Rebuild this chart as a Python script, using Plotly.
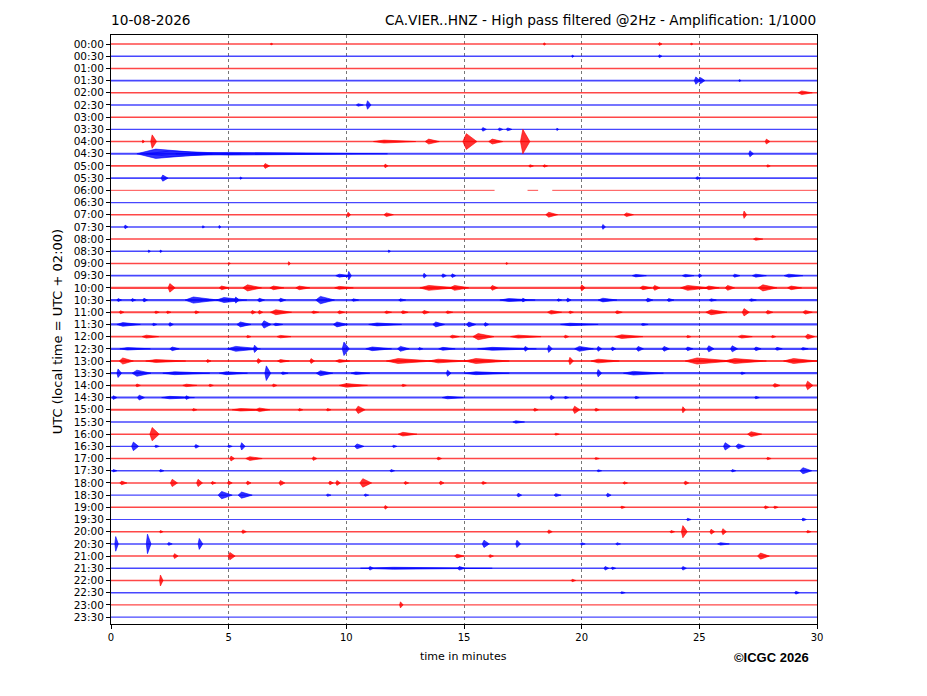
import plotly.graph_objects as go

# ---------------- data ----------------
row_labels = ["00:00", "00:30", "01:00", "01:30", "02:00", "02:30", "03:00", "03:30",
              "04:00", "04:30", "05:00", "05:30", "06:00", "06:30", "07:00", "07:30",
              "08:00", "08:30", "09:00", "09:30", "10:00", "10:30", "11:00", "11:30",
              "12:00", "12:30", "13:00", "13:30", "14:00", "14:30", "15:00", "15:30",
              "16:00", "16:30", "17:00", "17:30", "18:00", "18:30", "19:00", "19:30",
              "20:00", "20:30", "21:00", "21:30", "22:00", "22:30", "23:00", "23:30"]

# background noise half-amplitude for each row (in row units)
row_noise = [0.06, 0.06, 0.06, 0.07, 0.06, 0.06, 0.06, 0.06,
             0.06, 0.08, 0.07, 0.07, 0.04, 0.05, 0.06, 0.06,
             0.06, 0.06, 0.06, 0.07, 0.09, 0.09, 0.09, 0.09,
             0.08, 0.09, 0.09, 0.09, 0.08, 0.08, 0.08, 0.06,
             0.06, 0.06, 0.06, 0.06, 0.06, 0.06, 0.06, 0.05,
             0.06, 0.06, 0.06, 0.06, 0.06, 0.06, 0.06, 0.05]

x_ticks = [0, 5, 10, 15, 20, 25, 30]

# data gaps (row, start minute, end minute)
gap_row = [12, 12]
gap_start = [16.3, 18.15]
gap_end = [17.7, 18.75]

# seismic events: row index, time of peak (min), half amplitude (row units), duration (min)
ev_row = [0, 0, 0, 0,
          1, 1,
          3, 3, 3,
          4,
          5, 5,
          7, 7, 7, 7,
          8, 8, 8, 8, 8, 8, 8, 8,
          9, 9, 9, 9,
          10, 10, 10, 10, 10,
          11, 11, 11,
          14, 14, 14, 14, 14,
          15, 15, 15, 15,
          16,
          17, 17, 17,
          18, 18, 18,
          19, 19, 19, 19, 19, 19, 19, 19, 19, 19, 19,
          20, 20, 20, 20, 20, 20, 20, 20, 20, 20, 20, 20, 20, 20, 20, 20, 20,
          21, 21, 21, 21, 21, 21, 21, 21, 21, 21, 21, 21, 21, 21, 21, 21, 21, 21, 21, 21,
          22, 22, 22, 22, 22, 22, 22, 22, 22, 22, 22, 22, 22, 22, 22, 22, 22, 22, 22, 22,
          23, 23, 23, 23, 23, 23, 23, 23, 23, 23, 23, 23, 23,
          24, 24, 24, 24, 24, 24, 24, 24, 24, 24, 24, 24,
          25, 25, 25, 25, 25, 25, 25, 25, 25, 25, 25, 25, 25, 25, 25, 25, 25, 25, 25, 25, 25, 25, 25,
          26, 26, 26, 26, 26, 26, 26, 26, 26, 26, 26, 26, 26, 26, 26,
          27, 27, 27, 27, 27, 27, 27, 27, 27, 27, 27, 27, 27,
          28, 28, 28, 28, 28, 28, 28, 28,
          29, 29, 29, 29, 29, 29, 29, 29, 29,
          30, 30, 30, 30, 30, 30, 30, 30, 30, 30,
          31,
          32, 32, 32, 32,
          33, 33, 33, 33, 33, 33, 33, 33, 33,
          34, 34, 34, 34, 34, 34,
          35, 35, 35, 35, 35, 35,
          36, 36, 36, 36, 36, 36, 36, 36, 36, 36, 36, 36, 36, 36, 36,
          37, 37, 37, 37, 37, 37, 37,
          38, 38, 38, 38,
          39, 39,
          40, 40, 40, 40, 40, 40, 40, 40,
          41, 41, 41, 41, 41, 41, 41, 41, 41,
          42, 42, 42, 42, 42,
          43, 43, 43, 43, 43, 43,
          44, 44,
          45, 45,
          46]

ev_time = [6.8, 18.4, 23.3, 24.65,
           19.6, 23.3,
           24.85, 25.05, 26.7,
           29.35,
           10.5, 10.9,
           15.8, 16.5, 16.85, 18.95,
           1.35, 1.75, 11.6, 13.5, 15.1, 16.2, 17.5, 27.85,
           1.9, 2.5, 5.0, 27.15,
           6.55, 11.65, 17.8, 18.4, 27.9,
           2.2, 5.5, 24.9,
           10.07, 11.7, 18.6, 21.9, 26.9,
           0.6, 3.9, 4.6, 20.9,
           27.4,
           1.6, 2.1, 11.8,
           5.0, 7.55, 16.8,
           9.7, 10.1, 13.3, 14.1, 14.5, 22.3, 24.4, 25.0, 26.5, 27.4, 28.8,
           2.5, 4.7, 5.8, 6.9, 8.0, 9.7, 13.5, 14.6, 16.2, 20.0, 22.6, 23.1, 24.5, 25.4, 26.2, 27.7, 28.9,
           0.3, 0.9, 1.4, 3.5, 4.8, 5.3, 6.3, 7.2, 8.9, 10.3, 12.3, 16.9, 17.5, 19.0, 19.4, 20.9, 22.8, 23.7, 25.5, 27.2,
           0.4, 1.9, 2.4, 3.6, 6.0, 6.3, 7.0, 8.6, 9.7, 11.7, 12.4, 13.3, 14.3, 18.7, 19.5, 21.5, 25.5, 26.9, 27.9, 29.5,
           0.5, 1.8, 2.5, 5.5, 6.5, 7.0, 9.6, 11.3, 13.8, 15.2, 15.9, 19.5, 22.6,
           1.5, 5.8, 7.2, 14.5, 15.6, 17.3, 19.3, 21.7, 24.5, 26.8, 28.1, 29.6,
           0.7, 2.6, 5.3, 6.1, 9.9, 11.1, 12.3, 13.1, 14.1, 16.2, 17.6, 18.6, 19.9, 20.7, 21.3, 22.4, 23.5, 24.5, 25.4, 26.4, 27.4, 28.3, 29.4,
           0.5, 1.9, 4.1, 6.25, 7.2, 8.5, 9.7, 12.2, 13.9, 15.5, 19.5, 20.7, 24.9, 26.5, 29.0,
           0.3, 1.1, 2.7, 4.9, 6.6, 7.3, 8.9, 10.4, 14.3, 15.5, 20.7, 22.2, 26.8,
           1.1, 3.2, 4.2, 6.9, 10.0, 12.4, 28.2, 29.6,
           0.1, 1.2, 2.5, 3.2, 14.3, 18.7, 19.3, 22.3, 27.4,
           3.5, 5.5, 6.3, 8.0, 9.2, 10.5, 18.0, 19.7, 20.6, 24.3,
           17.2,
           1.75, 12.4, 18.9, 27.2,
           0.95, 1.9, 3.6, 5.0, 5.55, 10.45, 12.0, 26.1, 26.65,
           5.1, 5.9, 8.6, 13.9, 20.6, 27.9,
           0.1, 2.1, 11.9, 20.7, 26.4, 29.4,
           0.45, 2.6, 3.7, 4.3, 5.0, 5.8, 7.2, 9.3, 9.6, 10.7, 12.5, 14.0, 15.8, 21.8, 24.4,
           4.7, 5.55, 9.2, 10.8, 17.3, 18.9, 21.1,
           11.65, 21.7, 27.8, 28.2,
           24.5, 29.4,
           2.1, 5.6, 18.6, 23.8, 24.3, 25.5, 26.0, 29.6,
           0.2, 1.55, 2.45, 3.75, 15.85, 17.25, 20.0, 21.5, 25.9,
           2.7, 5.05, 14.7, 16.1, 27.6,
           12.0, 11.0, 14.8, 21.0, 21.3, 24.3,
           2.1, 19.6,
           21.7, 29.1,
           12.3]

ev_amp = [.08, .1, .12, .08,
          .1, .12,
          .3, .25, .08,
          .15,
          .1, .35,
          .15, .12, .12, .1,
          .12, .55, .12, .2, .65, .2, 1.0, .2,
          .38, .22, .11, .25,
          .2, .15, .1, .1, .1,
          .25, .1, .12,
          .2, .15, .2, .15, .3,
          .15, .1, .12, .2,
          .1,
          .1, .1, .1,
          .08, .15, .08,
          .12, .35, .2, .15, .15, .1, .1, .15, .12, .12, .12,
          .35, .15, .25, .15, .15, .12, .2, .2, .2, .25, .15, .2, .2, .15, .2, .25, .15,
          .12, .12, .15, .25, .2, .25, .15, .15, .3, .1, .1, .12, .15, .1, .15, .15, .15, .12, .1, .1,
          .12, .1, .1, .12, .15, .15, .2, .1, .12, .1, .12, .15, .1, .15, .1, .12, .2, .3, .15, .15,
          .15, .1, .15, .2, .3, .1, .2, .12, .2, .2, .15, .1, .08,
          .12, .1, .1, .12, .25, .12, .12, .15, .1, .12, .1, .2,
          .1, .15, .2, .3, .55, .15, .2, .1, .12, .12, .2, .3, .2, .2, .15, .2, .2, .15, .25, .25, .15, .12, .1,
          .25, .12, .12, .2, .12, .2, .12, .2, .15, .2, .3, .15, .25, .2, .2,
          .35, .25, .12, .12, .6, .1, .2, .1, .25, .12, .3, .15, .1,
          .12, .1, .1, .12, .15, .1, .15, .35,
          .15, .2, .1, .15, .1, .2, .1, .1, .1,
          .1, .1, .15, .1, .1, .3, .12, .3, .12, .25,
          .1,
          .55, .15, .08, .2,
          .35, .1, .15, .1, .3, .2, .1, .3, .2,
          .2, .15, .15, .12, .08, .1,
          .1, .1, .1, .08, .1, .25,
          .15, .3, .3, .12, .15, .15, .2, .15, .2, .35, .12, .15, .12, .1, .15,
          .3, .25, .1, .1, .15, .12, .15,
          .15, .1, .12, .1,
          .1, .12,
          .1, .15, .15, .1, .5, .2, .25, .1,
          .6, .8, .12, .45, .3, .3, .1, .1, .1,
          .2, .3, .15, .12, .25,
          .08, .15, .15, .15, .1, .15,
          .45, .1,
          .08, .12,
          .25]

ev_dur = [.1, .1, .15, .1,
          .1, .15,
          .25, .25, .1,
          .6,
          .3, .2,
          .2, .2, .25, .1,
          .1, .25, 1.8, .6, .6, .6, .4, .2,
          3.2, 4.0, 9.0, .2,
          .25, .15, .2, .2, .15,
          .3, .1, .2,
          .15, .4, .5, .4, .15,
          .15, .1, .1, .15,
          .4,
          .1, .1, .1,
          .1, .1, .1,
          .6, .15, .15, .2, .2, .6, .5, .15, .3, .6, .8,
          .3, .4, .8, .6, .6, .8, 1.5, .8, .3, .2, .5, .3, 1.2, .6, .4, .8, .6,
          .2, .2, .2, 1.4, 1.3, .2, .3, .3, .8, .3, .3, 1.5, .2, .2, .2, .8, .3, .3, .3, .3,
          .2, .2, .2, .2, .2, .2, .9, .3, .3, .3, .3, .3, .3, .6, .2, .3, .9, .3, .3, .4,
          1.0, .2, .2, .6, .4, .4, .6, 1.4, .5, .4, .2, 1.6, .3,
          .7, .2, .6, .4, .9, 1.3, .2, 1.2, .2, .6, .2, .4,
          1.3, .4, 1.4, .2, .3, 1.1, .5, .2, .7, 2.5, .2, .2, .8, .2, .2, .3, .3, .3, .3, .3, .3, .3, .3,
          .6, 1.7, .2, .2, .5, .2, .6, 2.0, 1.6, 1.9, .2, 1.2, 2.0, 1.8, 1.7,
          .2, .8, 2.0, 1.2, .25, .3, .7, .8, .2, 1.9, .2, 1.7, .2,
          .2, .6, .2, .2, 1.2, .2, .3, .3,
          .2, .3, 1.4, .2, .9, .2, .2, .2, .2,
          .2, 1.4, .6, .2, .2, .4, .2, .3, .2, .15,
          .5,
          .4, .8, .2, .6,
          .3, .2, .2, .2, .2, .4, .2, .3, .4,
          .2, .7, .2, .2, .2, .2,
          .2, .2, .2, .2, .2, .5,
          .3, .3, .25, .2, .2, .2, .25, .2, .2, .5, .2, .2, .2, .2, .2,
          .6, .6, .2, .2, .2, .3, .2,
          .15, .2, .2, .2,
          .2, .2,
          .15, .2, .2, .2, .25, .2, .2, .2,
          .15, .2, .2, .2, .3, .2, .2, .2, .5,
          .2, .3, .4, .2, .5,
          5.6, .2, .3, .2, .2, .2,
          .15, .2,
          .2, .2,
          .15]

assert len(ev_row) == len(ev_time) == len(ev_amp) == len(ev_dur)

# ---------------- layout constants ----------------
W, H = 927, 696
PAGE_OFFSET = 8  # default body margin of the html page
M_L, M_R, M_T, M_B = 111 - PAGE_OFFSET, 110 + PAGE_OFFSET, 35 - PAGE_OFFSET, 72 + PAGE_OFFSET
Y_TOP, Y_BOT = 0.74, -47.57
plot_h = H - M_T - M_B
px_per_row = plot_h / (Y_TOP - Y_BOT)
ONSET = 0.25
colors = ["255,0,0", "0,0,255"]
FONT = "DejaVu Sans"

fig = go.Figure()

# baselines (background noise) for each row
for r, lab in enumerate(row_labels):
    y = -r
    xs = [0]
    for gr, g0, g1 in zip(gap_row, gap_start, gap_end):
        if gr == r:
            xs += [g0, None, g1]
    xs += [30]
    ys = [None if v is None else y for v in xs]
    c = colors[r % 2]
    fig.add_trace(go.Scatter(
        x=xs, y=ys, mode="lines", hoverinfo="skip", showlegend=False,
        line=dict(color=f"rgba({c},0.72)", width=max(0.8, 2 * row_noise[r] * px_per_row)),
        connectgaps=False))

# events as spindle-shaped envelopes
for ci, c in enumerate(colors):
    xs, ys = [], []
    for r, t, a, d in zip(ev_row, ev_time, ev_amp, ev_dur):
        if r % 2 != ci:
            continue
        y = -r
        t0 = max(0.0, t - ONSET * d)
        t1 = min(30.0, t + (1 - ONSET) * d)
        xs += [t0, t, t1, t, t0, None]
        ys += [y, y + a, y, y - a, y, None]
    fig.add_trace(go.Scatter(
        x=xs, y=ys, mode="lines", fill="toself", hoverinfo="skip", showlegend=False,
        fillcolor=f"rgba({c},0.8)", line=dict(color=f"rgba({c},0.85)", width=0.7)))

fig.update_layout(
    width=W, height=H,
    margin=dict(l=M_L, r=M_R, t=M_T, b=M_B),
    paper_bgcolor="white", plot_bgcolor="white",
    font=dict(family=FONT, color="black"),
    xaxis=dict(range=[0, 30], tickvals=x_ticks, ticktext=[str(v) for v in x_ticks],
               showgrid=True, gridcolor="#777", griddash="dot", gridwidth=0.7,
               showline=True, mirror=True, linecolor="black", linewidth=1,
               ticks="outside", ticklen=4, tickcolor="black",
               tickfont=dict(size=10, family=FONT), zeroline=False),
    yaxis=dict(range=[Y_BOT, Y_TOP], tickvals=[-r for r in range(len(row_labels))],
               ticktext=row_labels, showgrid=False,
               showline=True, mirror=True, linecolor="black", linewidth=1,
               ticks="outside", ticklen=4, tickcolor="black",
               tickfont=dict(size=10.5, family=FONT), zeroline=False),
    annotations=[
        dict(text="10-08-2026", xref="paper", yref="paper", x=-0.003, y=1.0255,
             xanchor="left", yanchor="middle", showarrow=False,
             font=dict(size=13.7, family=FONT)),
        dict(text="CA.VIER..HNZ - High pass filtered @2Hz - Amplification: 1/1000",
             xref="paper", yref="paper", x=1.0015, y=1.0255,
             xanchor="right", yanchor="middle", showarrow=False,
             font=dict(size=13.7, family=FONT)),
        dict(text="UTC (local time = UTC + 02:00)", xref="paper", yref="paper",
             x=-0.0765, y=0.497, textangle=-90, xanchor="center", yanchor="middle",
             showarrow=False, font=dict(size=13, family=FONT)),
        dict(text="time in minutes", xref="paper", yref="paper", x=0.4986, y=-0.056,
             xanchor="center", yanchor="middle", showarrow=False,
             font=dict(size=11, family=FONT)),
        dict(text="<b>©ICGC 2026</b>", xref="paper", yref="paper", x=0.9915, y=-0.0577,
             xanchor="right", yanchor="middle", showarrow=False,
             font=dict(size=13, family="Liberation Sans")),
    ],
)

fig.write_html("out.html")
